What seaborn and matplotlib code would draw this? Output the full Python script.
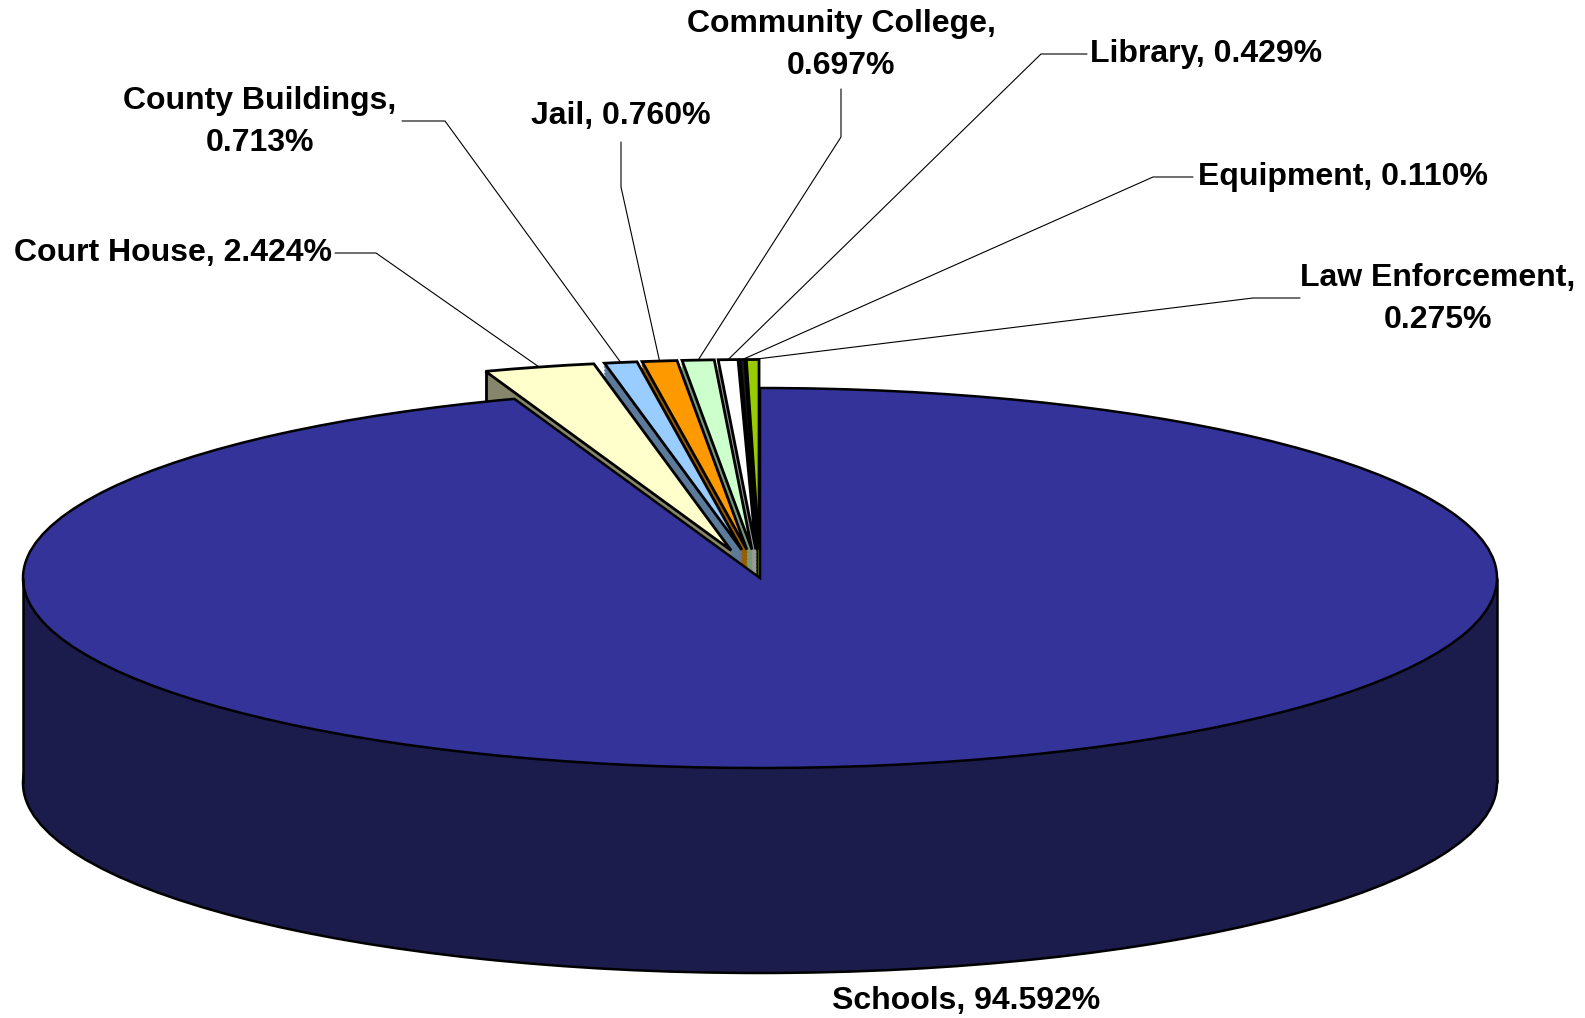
import numpy as np
import matplotlib
matplotlib.use("Agg")
import matplotlib.pyplot as plt
import seaborn as sns

# --- data (Excel order: clockwise from 12 o'clock) ---
categories = ["Schools", "Court House", "County Buildings", "Jail",
              "Community College", "Library", "Equipment", "Law Enforcement"]
shares = [94.592, 2.424, 0.713, 0.760, 0.697, 0.429, 0.110, 0.275]
top_colors = ["#333399", "#FFFFCC", "#99CCFF", "#FF9900",
              "#CCFFCC", "#FFFFFF", "#1A1A1A", "#99CC00"]
side_colors = ["#1C1C4C", "#86866A", "#5C7A99", "#995C00",
               "#7A997A", "#9A9A9A", "#0D0D0D", "#5C7A00"]
explode = [0, 0.15, 0.15, 0.15, 0.15, 0.15, 0.15, 0.15]

# --- layout (pixels in the 1585x1018 output) ---
W, H = 1585, 1018
cx, cy = 760, 578          # centre of the top face
rx, ry = 737, 190          # ellipse radii
depth_px = 205             # thickness of the pie

sns.set_style("white")
plt.rcParams['font.family'] = ['Liberation Sans', 'DejaVu Sans']

fig = plt.figure(figsize=(W / 100, H / 100), dpi=100)
ax = fig.add_axes([0, 0, 1, 1])


def to_data(px, py):
    return (px - cx) / rx, (cy - py) / ry


depth = depth_px / ry
pie_kw = dict(startangle=90, counterclock=False, radius=1)

# small (exploded) slices: side walls built from stacked layers
n_layers = 60
for k in range(n_layers, 0, -1):
    wedges, _ = ax.pie(shares, explode=explode, colors=side_colors,
                       center=(0, -depth * k / n_layers),
                       wedgeprops=dict(linewidth=1.0), **pie_kw)
    for w, c in zip(wedges, side_colors):
        w.set_edgecolor(c)
    wedges[0].set_visible(False)

# small slices: top faces
small, _ = ax.pie(shares, explode=explode, colors=top_colors,
                  wedgeprops=dict(edgecolor="black", linewidth=2.0), **pie_kw)
small[0].set_visible(False)

# vertical edge at the outer left corner of the exploded group
w = small[1]
ang = np.deg2rad(w.theta2)
x0 = w.center[0] + w.r * np.cos(ang)
y0 = w.center[1] + w.r * np.sin(ang)
ax.plot([x0, x0], [y0, y0 - depth], color="black", lw=2.0, zorder=1)

# Schools: bottom (only the front half shows), wall, top
ax.pie([sum(shares)], colors=side_colors[:1], center=(0, -depth),
       wedgeprops=dict(edgecolor="black", linewidth=1.8), **pie_kw)
ax.fill_between([-1, 1], -depth, 0, color=side_colors[0], lw=0)
ax.vlines([-1, 1], -depth, 0, colors="black", lw=1.8)

top, _ = ax.pie(shares, colors=top_colors,
                wedgeprops=dict(edgecolor="black", linewidth=1.8), **pie_kw)
for w in top[1:]:
    w.set_visible(False)

# --- labels ---
label_text = [f"{c}, {v:.3f}%" for c, v in zip(categories, shares)]
for i in (2, 4, 7):
    label_text[i] = label_text[i].replace(", ", ",\n")

# (text x, text y, ha, leader start, leader elbow) in pixels
label_layout = {
    1: (332, 253, "right", (335, 253), (376, 253)),
    2: (260, 122, "center", (402, 121), (445, 121)),
    3: (621, 116, "center", (621, 142), (621, 187)),
    4: (841, 45, "center", (841, 89), (841, 137)),
    5: (1090, 54, "left", (1087, 54), (1041, 54)),
    6: (1198, 177, "left", (1193, 177), (1153, 177)),
    7: (1438, 299, "center", (1300, 298), (1253, 298)),
}

txt_kw = dict(fontsize=23, fontweight="bold", color="black", va="center")
for i, (tx, ty, ha, p0, p1) in label_layout.items():
    w = small[i]
    mid = np.deg2rad((w.theta1 + w.theta2) / 2)
    ax_x = w.center[0] + w.r * np.cos(mid)
    ax_y = w.center[1] + w.r * np.sin(mid)
    x0, y0 = to_data(*p0)
    x1, y1 = to_data(*p1)
    ax.plot([x0, x1, ax_x], [y0, y1, ax_y], color="black", lw=0.8, zorder=3)
    ax.text(*to_data(tx, ty), label_text[i], ha=ha, multialignment="center",
            linespacing=1.5, **txt_kw)

ax.text(*to_data(966, 1001), label_text[0], ha="center", **txt_kw)

ax.set_aspect("auto")
ax.set_xlim(-cx / rx, (W - cx) / rx)
ax.set_ylim(-(H - cy) / ry, cy / ry)
ax.axis("off")

fig.savefig("out.png", dpi=100, facecolor="white")
